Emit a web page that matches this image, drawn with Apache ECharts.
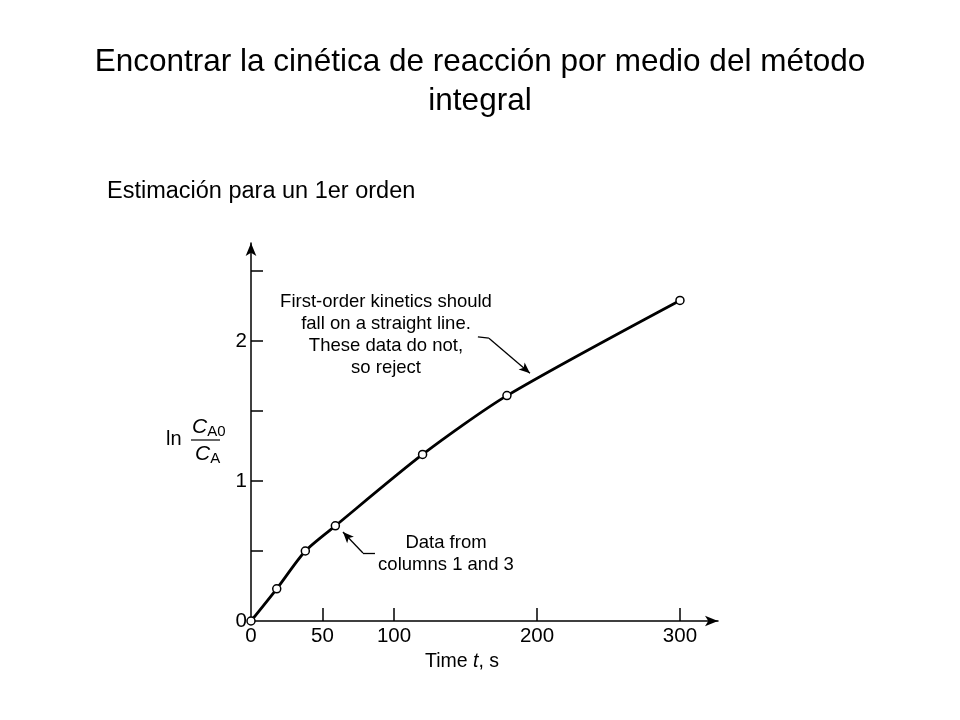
<!DOCTYPE html>
<html>
<head>
<meta charset="utf-8">
<script src="https://cdn.jsdelivr.net/npm/echarts@6/dist/echarts.min.js"></script>
<style>
  html, body { margin: 0; padding: 0; background: #fff; }
  #chart { width: 960px; height: 720px; }
</style>
</head>
<body>
<div id="chart"></div>
<script>
// datos (t en s, ln(CA0/CA))
var tiempos = [0, 18, 38, 59, 120, 179, 300];
var lnRatio = [0, 0.23, 0.50, 0.68, 1.19, 1.61, 2.29];
var xTicks = [50, 100, 200, 300];
var xLabels = [0, 50, 100, 200, 300];
var yTicks = [0.5, 1, 1.5, 2, 2.5];
var yLabels = [0, 1, 2];

var font = '"Liberation Sans", Arial, sans-serif';
var puntos = tiempos.map(function (t, i) { return [t, lnRatio[i]]; });

// flechas de las notas, en coordenadas de los ejes
function flecha(a, b, c) {
	return [
		[{ coord: a, symbol: 'none' }, { coord: b, symbol: 'none' }],
		[{ coord: b, symbol: 'none' }, { coord: c, symbol: 'arrow' }]
	];
}

var myChart = echarts.init(document.getElementById('chart'));
var option = {
	animation: false,
	backgroundColor: '#fff',
	title: [{
		text: 'Encontrar la cinética de reacción por medio del método\nintegral',
		left: 'center',
		top: 38,
		textStyle: {
			fontFamily: font,
			fontWeight: 'normal',
			fontSize: 31.5,
			lineHeight: 39,
			color: '#000'
		}
	}, {
		text: 'Estimación para un 1er orden',
		left: 102,
		top: 175,
		textStyle: {
			fontFamily: font,
			fontWeight: 'normal',
			fontSize: 23.5,
			color: '#000'
		}
	}],
	grid: { left: 251, top: 243, width: 467, height: 378 },
	xAxis: {
		type: 'value',
		min: 0,
		max: 326.6,
		axisLine: {
			onZero: false,
			symbol: ['none', 'arrow'],
			symbolSize: [8, 13],
			lineStyle: { color: '#000', width: 1.5 }
		},
		axisTick: {
			inside: true,
			length: 13,
			customValues: xTicks,
			lineStyle: { color: '#000', width: 1.5 }
		},
		axisLabel: {
			customValues: xLabels,
			margin: 5,
			fontFamily: font,
			fontSize: 20.5,
			color: '#000'
		},
		splitLine: { show: false }
	},
	yAxis: {
		type: 'value',
		min: 0,
		max: 2.7,
		axisLine: {
			show: true,
			onZero: false,
			symbol: ['none', 'arrow'],
			symbolSize: [8, 13],
			lineStyle: { color: '#000', width: 1.5 }
		},
		axisTick: {
			show: true,
			inside: true,
			length: 12,
			customValues: yTicks,
			lineStyle: { color: '#000', width: 1.5 }
		},
		axisLabel: {
			customValues: yLabels,
			margin: 4,
			fontFamily: font,
			fontSize: 20.5,
			color: '#000'
		},
		splitLine: { show: false }
	},
	series: [{
		name: 'ln CA0/CA',
		type: 'line',
		data: puntos,
		smooth: 0.25,
		symbol: 'circle',
		symbolSize: 8,
		showAllSymbol: true,
		itemStyle: { color: '#fff', borderColor: '#000', borderWidth: 1.5 },
		lineStyle: { color: '#000', width: 2.8 },
		z: 3,
		markLine: {
			silent: true,
			symbolSize: [7, 11],
			label: { show: false },
			lineStyle: { color: '#000', width: 1.3, type: 'solid' },
			data: flecha([158.7, 2.03], [166.4, 2.02], [195.1, 1.77])
				.concat(flecha([86.7, 0.486], [78.3, 0.486], [64.3, 0.636]))
		}
	}],
	graphic: [{
		type: 'text',
		x: 386,
		y: 291,
		style: {
			text: 'First-order kinetics should\nfall on a straight line.\nThese data do not,\nso reject',
			align: 'center',
			font: '18.5px ' + font,
			lineHeight: 22,
			fill: '#000'
		}
	}, {
		type: 'text',
		x: 446,
		y: 532,
		style: {
			text: 'Data from\ncolumns 1 and 3',
			align: 'center',
			font: '18.5px ' + font,
			lineHeight: 22,
			fill: '#000'
		}
	}, {
		// nombre del eje y: ln CA0/CA
		type: 'group',
		x: 166,
		y: 416,
		children: [{
			type: 'text',
			style: { text: 'ln', x: 0, y: 13, font: '20px ' + font, fill: '#000' }
		}, {
			type: 'text',
			style: {
				text: '{c|C}{s|A0}',
				x: 26, y: 0,
				rich: {
					c: { fontFamily: font, fontStyle: 'italic', fontSize: 21, color: '#000' },
					s: { fontFamily: font, fontSize: 15, color: '#000', padding: [8, 0, 0, 0] }
				}
			}
		}, {
			type: 'line',
			shape: { x1: 25, y1: 24, x2: 54, y2: 24 },
			style: { stroke: '#000', lineWidth: 1.2 }
		}, {
			type: 'text',
			style: {
				text: '{c|C}{s|A}',
				x: 29, y: 27,
				rich: {
					c: { fontFamily: font, fontStyle: 'italic', fontSize: 21, color: '#000' },
					s: { fontFamily: font, fontSize: 15, color: '#000', padding: [8, 0, 0, 0] }
				}
			}
		}]
	}, {
		type: 'text',
		x: 425,
		y: 652,
		style: {
			text: '{a|Time }{b|t}{a|, s}',
			rich: {
				a: { fontFamily: font, fontSize: 19.5, color: '#000' },
				b: { fontFamily: font, fontStyle: 'italic', fontSize: 19.5, color: '#000' }
			}
		}
	}]
};
myChart.setOption(option);
</script>
</body>
</html>
